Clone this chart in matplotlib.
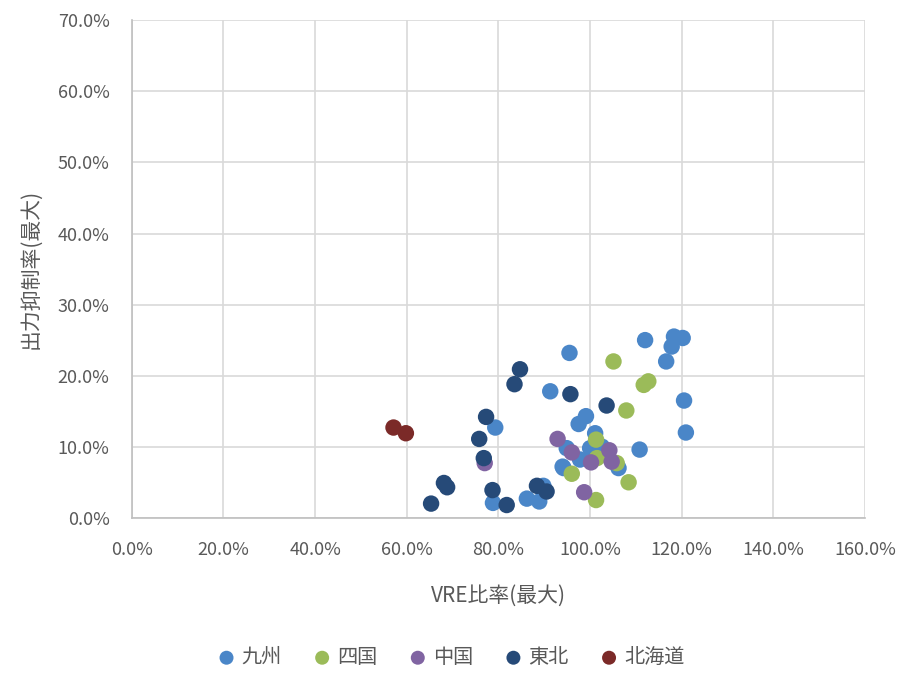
import matplotlib
matplotlib.use("Agg")
import matplotlib.pyplot as plt
from matplotlib.ticker import FuncFormatter, MultipleLocator

plt.rcParams['font.family'] = ['Noto Sans CJK JP', 'DejaVu Sans']

# VRE ratio (%) and curtailment rate (%) per region
kyushu_x = [95.5, 91.3, 79.3, 78.8, 86.2, 88.9, 89.8, 94.0, 94.9, 112.0, 118.3, 120.2, 117.8, 116.6,
            120.5, 120.9, 110.8, 99.1, 97.5, 101.1, 94.2, 97.8, 100.0, 102.6, 106.2]
kyushu_y = [23.2, 17.8, 12.7, 2.1, 2.7, 2.3, 4.5, 7.2, 9.8, 25.0, 25.5, 25.3, 24.1, 22.0,
            16.5, 12.0, 9.6, 14.3, 13.2, 11.9, 7.0, 8.2, 9.8, 10.0, 7.0]
shikoku_x = [105.1, 111.7, 112.7, 107.9, 101.3, 101.5, 105.8, 96.0, 108.4, 101.3]
shikoku_y = [22.0, 18.7, 19.2, 15.1, 11.0, 8.4, 7.7, 6.2, 5.0, 2.5]
chugoku_x = [92.9, 96.0, 100.2, 104.2, 104.7, 98.7, 77.0]
chugoku_y = [11.1, 9.2, 7.8, 9.5, 7.9, 3.6, 7.7]
tohoku_x = [84.7, 83.5, 95.7, 103.6, 77.3, 75.8, 76.8, 68.1, 68.8, 65.3, 78.7, 81.8, 88.4, 90.5]
tohoku_y = [20.9, 18.8, 17.4, 15.8, 14.2, 11.1, 8.4, 4.9, 4.3, 2.0, 3.9, 1.8, 4.5, 3.7]
hokkaido_x = [57.1, 59.8]
hokkaido_y = [12.7, 11.9]

series = [
    ("九州", kyushu_x, kyushu_y, "#4a86c8"),
    ("四国", shikoku_x, shikoku_y, "#9bbb59"),
    ("中国", chugoku_x, chugoku_y, "#8064a2"),
    ("東北", tohoku_x, tohoku_y, "#264a78"),
    ("北海道", hokkaido_x, hokkaido_y, "#7b2a28"),
]

fig = plt.figure(figsize=(9.03, 6.76), dpi=100)
ax = fig.add_axes([0.146, 0.234, 0.812, 0.736])

for name, xs, ys, c in series:
    ax.scatter(xs, ys, s=140, color=c, label=name, edgecolors='none', zorder=3)

ax.set_xlim(0, 160)
ax.set_ylim(0, 70)
ax.xaxis.set_major_locator(MultipleLocator(20))
ax.yaxis.set_major_locator(MultipleLocator(10))
fmt = FuncFormatter(lambda v, p: f"{v:.1f}%")
ax.xaxis.set_major_formatter(fmt)
ax.yaxis.set_major_formatter(fmt)

ax.grid(True, color="#d9d9d9", linewidth=1.2, zorder=0)
ax.set_axisbelow(True)
for s in ["top", "right"]:
    ax.spines[s].set_visible(False)
for s in ["left", "bottom"]:
    ax.spines[s].set_color("#bfbfbf")
    ax.spines[s].set_linewidth(1.2)
ax.tick_params(length=0, labelsize=13, colors="#595959")
ax.tick_params(axis='x', pad=17)
ax.tick_params(axis='y', pad=16)

ax.set_xlabel("VRE比率(最大)", fontsize=15, color="#595959", labelpad=18)
ax.set_ylabel("出力抑制率(最大)", fontsize=15, color="#595959", labelpad=12)

fig.legend(loc="lower center", bbox_to_anchor=(0.5, -0.015), ncol=5, frameon=False,
           fontsize=14.5, handlelength=0.8, handletextpad=0.35, columnspacing=1.6,
           markerscale=0.85, labelcolor="#595959")

fig.savefig("out.png", dpi=100)
